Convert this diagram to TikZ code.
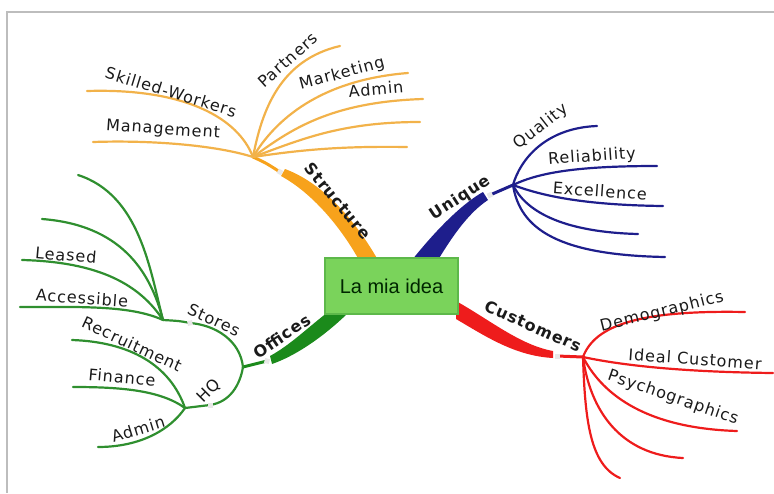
\documentclass[tikz,border=0pt]{standalone}
\usepackage{fontspec}
\setmainfont{Liberation Sans}
\newfontfamily\comic[LetterSpace=6]{DejaVu Sans}
\definecolor{orB}{HTML}{F7A21B}
\definecolor{orT}{HTML}{F2B24A}
\definecolor{blB}{HTML}{1E1E8C}
\definecolor{rdB}{HTML}{EE1C1C}
\definecolor{gnB}{HTML}{1B8A1B}
\definecolor{gnT}{HTML}{2F8F2F}
\definecolor{boxF}{HTML}{7AD35B}
\definecolor{boxD}{HTML}{5DB84A}
\definecolor{txt}{HTML}{1A1A1A}
\definecolor{frame}{HTML}{BDBDBD}
\begin{document}
\begin{tikzpicture}[x=1pt,y=-1pt,
  lab/.style={font=\comic\fontsize{16}{19}\selectfont, text=txt, inner sep=0pt},
  blab/.style={font=\comic\bfseries\fontsize{16}{19}\selectfont, text=txt, inner sep=0pt},
  thin/.style={line width=2.2pt, line cap=round},
  mid/.style={line width=3pt, line cap=round},
  gapmark/.style={fill=gray!18, draw=none, minimum size=5pt, inner sep=0pt}]
\useasboundingbox (0,0) rectangle (774,493);
% frame
\draw[frame, line width=1.2pt] (774,12) -- (7,12) -- (7,493);

% ---------- hubs and end points ----------
\coordinate (sH) at (253,157);
\coordinate (sG) at (280,172);
\coordinate (uH) at (513,185);
\coordinate (uG) at (490,195);
\coordinate (cH) at (583,357);
\coordinate (cG) at (557,356);
\coordinate (oH) at (243,367);
\coordinate (oG) at (267,361);
\coordinate (stH) at (163,320);
\coordinate (stG) at (190,323);
\coordinate (hqH) at (185,408);
\coordinate (hqG) at (210,405);

\coordinate (s1) at (87,91);
\coordinate (s2) at (93,142);
\coordinate (s3) at (340,46);
\coordinate (s4) at (408,73);
\coordinate (s5) at (423,99);
\coordinate (s6) at (420,122);
\coordinate (s7) at (407,147);

\coordinate (u1) at (597,126);
\coordinate (u2) at (657,166);
\coordinate (u3) at (663,206);
\coordinate (u4) at (638,234);
\coordinate (u5) at (665,257);

\coordinate (c1) at (745,312);
\coordinate (c2) at (773,373);
\coordinate (c3) at (737,431);
\coordinate (c4) at (683,458);
\coordinate (c5) at (620,478);

\coordinate (t1) at (78,175);
\coordinate (t2) at (42,219);
\coordinate (t3) at (22,260);
\coordinate (t4) at (20,307);

\coordinate (h1) at (72,340);
\coordinate (h2) at (73,387);
\coordinate (h3) at (98,447);

% ---------- Structure (orange) ----------
\fill[orB] (285,169) .. controls (320,182) and (352,215) .. (378,260)
  -- (359,260) .. controls (340,226) and (312,193) .. (281,176) -- cycle;
\draw[orB, mid] (sG) .. controls (266,163) .. (sH);
\begin{scope}[orT, thin]
\draw (sH) .. controls (238,118) and (185,88) .. (s1);
\draw (sH) .. controls (215,145) and (150,140) .. (s2);
\draw (sH) .. controls (262,110) and (280,60) .. (s3);
\draw (sH) .. controls (275,120) and (320,80) .. (s4);
\draw (sH) .. controls (290,130) and (330,102) .. (s5);
\draw (sH) .. controls (300,140) and (340,122) .. (s6);
\draw (sH) .. controls (300,150) and (340,146) .. (s7);
\end{scope}
\node[gapmark, rotate=-30] (gs) at (sG) {};

% ---------- Unique (blue) ----------
\fill[blB] (483,192) .. controls (465,202) and (440,225) .. (412,260)
  -- (438,260) .. controls (455,232) and (470,212) .. (488,200) -- cycle;
\draw[blB, mid] (uG) -- (uH);
\begin{scope}[blB, thin]
\draw (uH) .. controls (520,160) and (545,128) .. (u1);
\draw (uH) .. controls (540,172) and (580,166) .. (u2);
\draw (uH) .. controls (540,195) and (580,205) .. (u3);
\draw (uH) .. controls (525,210) and (560,232) .. (u4);
\draw (uH) .. controls (520,230) and (560,255) .. (u5);
\end{scope}
\node[gapmark, rotate=25] (gu) at (uG) {};

% ---------- Customers (red) ----------
\fill[rdB] (456,301) .. controls (490,320) and (520,345) .. (553,351)
  -- (553,358) .. controls (515,356) and (485,336) .. (456,319) -- cycle;
\draw[rdB, mid] (cG) -- (cH);
\begin{scope}[rdB, thin]
\draw (cH) .. controls (595,325) and (640,310) .. (c1);
\draw (cH) .. controls (620,365) and (680,372) .. (c2);
\draw (cH) .. controls (600,390) and (640,428) .. (c3);
\draw (cH) .. controls (590,410) and (620,455) .. (c4);
\draw (cH) .. controls (585,420) and (590,465) .. (c5);
\end{scope}
\node[gapmark] (gc) at (cG) {};

% ---------- Offices (green) ----------
\fill[gnB] (328,312) .. controls (305,330) and (290,345) .. (270,356)
  -- (272,364) .. controls (295,356) and (322,338) .. (347,314) -- cycle;
\draw[gnB, mid] (oG) -- (oH);
\begin{scope}[gnT, thin]
\draw (oH) .. controls (240,340) and (215,325) .. (stG) .. controls (180,321) .. (stH);
\draw (oH) .. controls (240,385) and (230,402) .. (hqG) -- (hqH);
\draw (stH) .. controls (150,270) and (140,195) .. (t1);
\draw (stH) .. controls (150,270) and (120,225) .. (t2);
\draw (stH) .. controls (140,285) and (100,262) .. (t3);
\draw (stH) .. controls (130,305) and (80,307) .. (t4);
\draw (hqH) .. controls (170,365) and (130,342) .. (h1);
\draw (hqH) .. controls (160,390) and (120,387) .. (h2);
\draw (hqH) .. controls (170,430) and (140,447) .. (h3);
\end{scope}
\node[gapmark, rotate=-15] (go) at (oG) {};
\node[gapmark, rotate=10] (gst) at (stG) {};
\node[gapmark] (ghq) at (hqG) {};

% ---------- central idea ----------
\node[draw=boxD, fill=boxF, line width=1.2pt, minimum width=133pt, minimum height=56pt,
  text=black!85!green, font=\fontsize{20}{24}\selectfont] (idea) at (391.5,286) {La mia idea};

% ---------- labels ----------
\node[blab, rotate=-50] (lStructure) at (338,201) {Structure};
\node[lab, rotate=-17] (lSkilled) at (171,92) {Skilled-Workers};
\node[lab, rotate=-4] (lManagement) at (163,130) {Management};
\node[lab, rotate=42] (lPartners) at (288,60) {Partners};
\node[lab, rotate=15] (lMarketing) at (342,74) {Marketing};
\node[lab, rotate=5] (lAdminS) at (376,89) {Admin};

\node[blab, rotate=33] (lUnique) at (460,198) {Unique};
\node[lab, rotate=38] (lQuality) at (541,127) {Quality};
\node[lab, rotate=4] (lReliability) at (592,157) {Reliability};
\node[lab, rotate=-4] (lExcellence) at (600,191) {Excellence};

\node[blab, rotate=-24] (lCustomers) at (533,326) {Customers};
\node[lab, rotate=14] (lDemo) at (662,312) {Demographics};
\node[lab, rotate=-4] (lIdeal) at (695,359) {Ideal Customer};
\node[lab, rotate=-19] (lPsycho) at (673,398) {Psychographics};

\node[blab, rotate=34] (lOffices) at (282,336) {Offices};
\node[lab, rotate=-25] (lStores) at (214,320) {Stores};
\node[lab, rotate=45] (lHQ) at (209,391) {HQ};
\node[lab, rotate=-5] (lLeased) at (66,255) {Leased};
\node[lab, rotate=-4] (lAccessible) at (82,298) {Accessible};
\node[lab, rotate=-25] (lRecruit) at (132,344) {Recruitment};
\node[lab, rotate=-5] (lFinance) at (122,377) {Finance};
\node[lab, rotate=17] (lAdminH) at (138,429) {Admin};
\end{tikzpicture}
\end{document}
